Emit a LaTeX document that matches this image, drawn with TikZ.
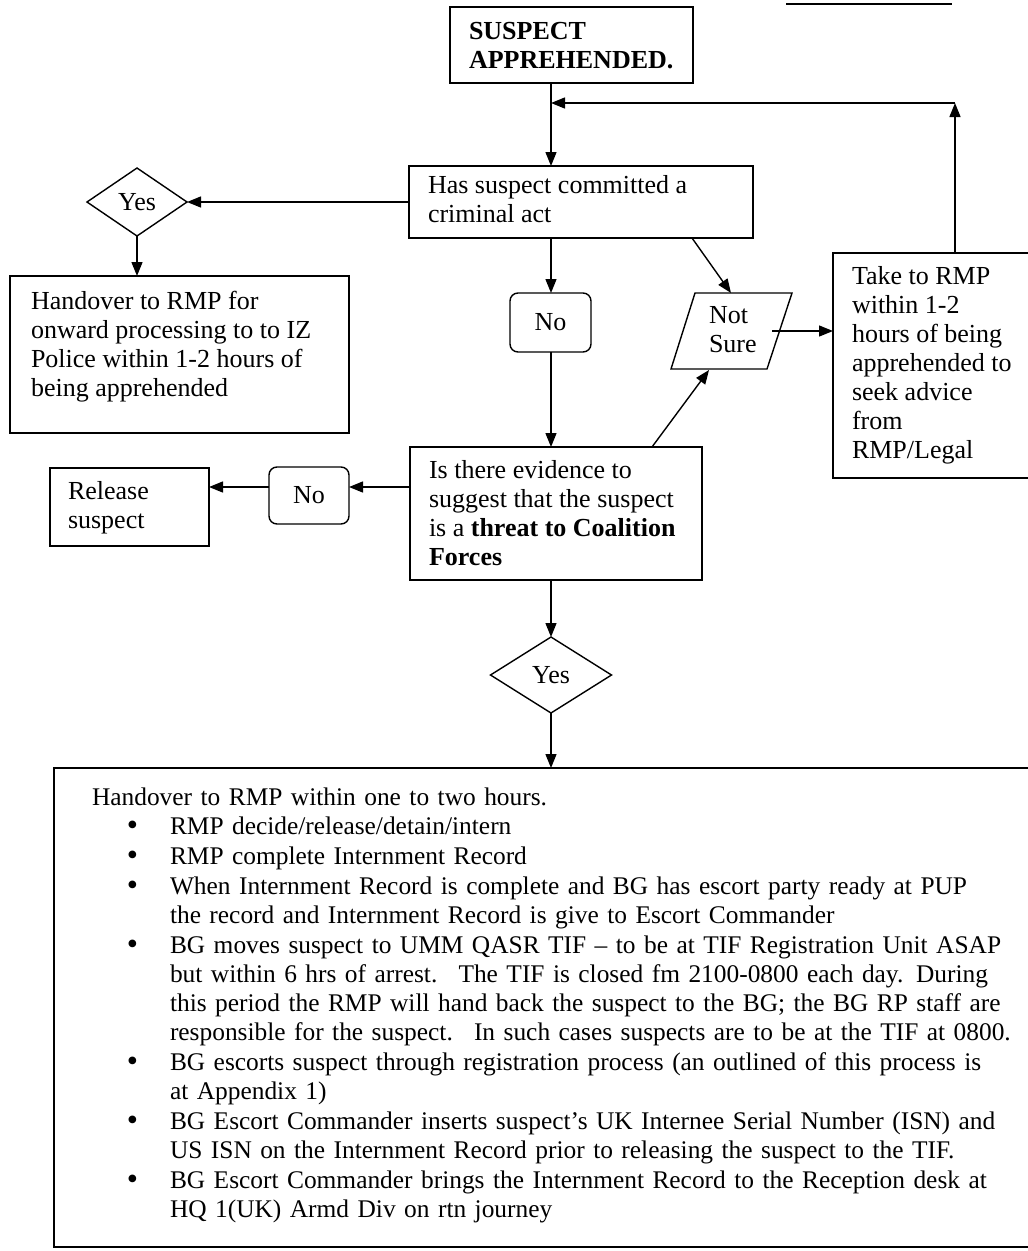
\documentclass[tikz,border=0pt]{standalone}
\usepackage{fontspec}
\setmainfont{Liberation Serif}
\usetikzlibrary{arrows.meta,calc,shapes.geometric}
\newcommand\mysz{\fontsize{26}{29}\selectfont}
\newcommand\bigsz{\fontsize{25.4}{29}\selectfont}
\newcommand\mybul{\raisebox{-1pt}{\fontsize{32}{29}\selectfont\textbullet}}
\begin{document}
\begin{tikzpicture}[x=1pt,y=-1pt,
  line width=1.4pt,
  arr/.style={-{Triangle[length=14pt,width=11pt]}},
  box/.style={draw, inner sep=0pt, outer sep=0pt, anchor=north west},
  rbox/.style={box, rounded corners=8pt},
  dia/.style={draw, diamond, inner sep=0pt, outer sep=0pt, font=\mysz},
  txt/.style={inner sep=0pt, outer sep=0pt, anchor=north west, align=left, font=\mysz, execute at begin node=\strut},
  ctxt/.style={inner sep=0pt, outer sep=0pt, font=\mysz},
]
\useasboundingbox (0,0) rectangle (1028,1251);
% cut-off header underline
\draw[line width=1.6pt] (786,4) -- (952,4);

% main guide coordinates
\coordinate (mainx) at (551,0);
\coordinate (ret) at (955,103);
\coordinate (lev) at (0,487);

% boxes
\node[box, minimum width=243pt, minimum height=76pt] (top) at (450,7) {};
\node[txt, font=\mysz\bfseries] (toptext) at (469,22) {SUSPECT\\APPREHENDED.};

\node[box, minimum width=344pt, minimum height=72pt] (has) at (409,166) {};
\node[txt] (hastext) at (428,175) {Has suspect committed a\\criminal act};

\node[dia, minimum width=100pt, minimum height=68pt] (yes1) at (137,202) {Yes};

\node[box, minimum width=339pt, minimum height=157pt] (h1) at (10,276) {};
\node[txt] (h1text) at (31,291) {Handover to RMP for\\onward processing to to IZ\\Police within 1-2 hours of\\being apprehended};

\node[rbox, minimum width=81pt, minimum height=59pt] (no1) at (510,293) {};
\node[ctxt] (no1text) at (no1.center) {No};

% parallelogram "Not Sure"
\coordinate (nsTL) at (695,293);
\coordinate (nsTR) at (792,293);
\coordinate (nsBR) at (767,369);
\coordinate (nsBL) at (671,369);
\draw (nsTL) -- (nsTR) -- (nsBR) -- (nsBL) -- cycle;
\node[txt] (nstext) at (709,306) {Not\\Sure};
\coordinate (nsTop) at (731,293);
\coordinate (nsBot) at (709,370);
\coordinate (nsR) at (772,331);
\coordinate (hasD) at (692,238);
\coordinate (evD) at (652,447);

\node[box, minimum width=215pt, minimum height=225pt] (take) at (833,253) {};
\node[txt] (taketext) at (852,266) {Take to RMP\\within 1-2\\hours of being\\apprehended to\\seek advice\\from\\RMP/Legal};

\node[box, minimum width=292pt, minimum height=133pt] (ev) at (410,447) {};
\node[txt] (evtext) at (429,460) {Is there evidence to\\suggest that the suspect\\is a \textbf{threat to Coalition}\\\textbf{Forces}};

\node[rbox, minimum width=80pt, minimum height=57pt] (no2) at (269,467) {};
\node[ctxt] (no2text) at (no2.center) {No};

\node[box, minimum width=159pt, minimum height=78pt] (rel) at (50,468) {};
\node[txt] (reltext) at (68,481) {Release\\suspect};

\node[dia, minimum width=121pt, minimum height=76pt] (yes2) at (551,675) {Yes};

\node[box, minimum width=1000pt, minimum height=479pt] (big) at (54,768) {};
\node[txt, font=\bigsz, text width=970pt] (bigtext) at (92,785) {\raggedright Handover to RMP within one to two hours.
\begin{list}{\mybul}{\setlength\leftmargin{78pt}\setlength\labelwidth{20pt}\setlength\labelsep{32pt}\setlength\itemsep{1pt}\setlength\parsep{0pt}\setlength\topsep{0pt}\setlength\partopsep{0pt}}
\item RMP decide/release/detain/intern
\item RMP complete Internment Record
\item When Internment Record is complete and BG has escort party ready at PUP\newline the record and Internment Record is give to Escort Commander
\item BG moves suspect to UMM QASR TIF -- to be at TIF Registration Unit ASAP\newline but within 6 hrs of arrest.~ The TIF is closed fm 2100-0800 each day. During\newline this period the RMP will hand back the suspect to the BG; the BG RP staff are\newline responsible for the suspect.~ In such cases suspects are to be at the TIF at 0800.
\item BG escorts suspect through registration process (an outlined of this process is\newline at Appendix 1)
\item BG Escort Commander inserts suspect’s UK Internee Serial Number (ISN) and\newline US ISN on the Internment Record prior to releasing the suspect to the TIF.
\item BG Escort Commander brings the Internment Record to the Reception desk at\newline HQ 1(UK) Armd Div on rtn journey
\end{list}};

% connectors
\draw[arr] (top.south -| mainx) -- (has.north -| mainx);
\draw[arr] (take.north -| ret) -- (ret);
\draw[arr] (ret) -- (ret -| mainx);
\draw[arr] (has.west) -- (yes1.east);
\draw[arr] (yes1.south) -- (yes1.south |- h1.north);
\draw[arr] (has.south -| mainx) -- (no1.north -| mainx);
\draw[arr] (no1.south -| mainx) -- (ev.north -| mainx);
\draw[arr] (hasD) -- (nsTop);
\draw[arr] (nsR) -- (nsR -| take.west);
\draw[arr] (evD) -- (nsBot);
\draw[arr] (ev.west |- lev) -- (no2.east |- lev);
\draw[arr] (no2.west |- lev) -- (rel.east |- lev);
\draw[arr] (ev.south -| mainx) -- (yes2.north);
\draw[arr] (yes2.south) -- (yes2.south |- big.north);
\end{tikzpicture}
\end{document}
